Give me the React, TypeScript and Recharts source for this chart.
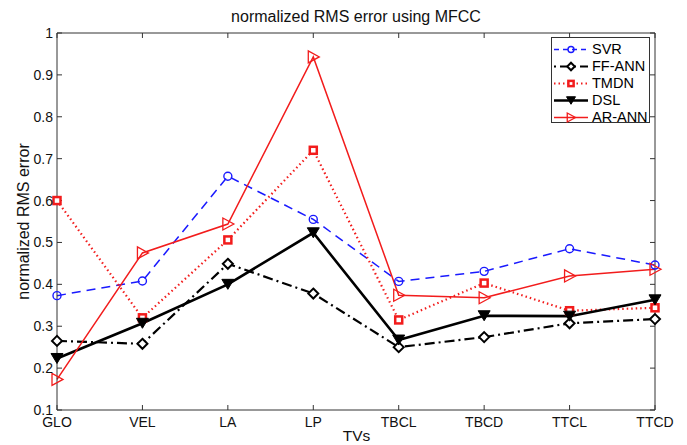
import React from 'react';
import { LineChart, Line, XAxis, YAxis, Legend } from 'recharts';

const tvs = ['GLO', 'VEL', 'LA', 'LP', 'TBCL', 'TBCD', 'TTCL', 'TTCD'];
const svr = [0.373, 0.408, 0.658, 0.555, 0.407, 0.431, 0.485, 0.446];
const ffAnn = [0.265, 0.258, 0.449, 0.378, 0.25, 0.274, 0.307, 0.317];
const tmdn = [0.6, 0.32, 0.506, 0.72, 0.315, 0.403, 0.337, 0.344];
const dsl = [0.223, 0.307, 0.4, 0.523, 0.267, 0.325, 0.324, 0.363];
const arAnn = [0.173, 0.475, 0.544, 0.943, 0.374, 0.368, 0.42, 0.436];
const yTicks = [0.1, 0.2, 0.3, 0.4, 0.5, 0.6, 0.7, 0.8, 0.9, 1];

const data = tvs.map((tv, i) => ({
  tv,
  SVR: svr[i],
  'FF-ANN': ffAnn[i],
  TMDN: tmdn[i],
  DSL: dsl[i],
  'AR-ANN': arAnn[i],
}));

const RED = '#f21c1c';
const BLUE = '#1a1aff';
const BLACK = '#000';
const FONT = 'Liberation Sans, Arial, Helvetica, sans-serif';

type Shape = 'circle' | 'diamond' | 'square' | 'triDown' | 'triRight';

const marker = (shape: Shape, cx: number, cy: number, key?: any, k: number = 1) => {
  switch (shape) {
    case 'circle':
      return <circle key={key} cx={cx} cy={cy} r={4 * k} fill="none" stroke={BLUE} strokeWidth={1.4} />;
    case 'diamond':
      return (
        <polygon key={key} points={`${cx},${cy - 5 * k} ${cx + 5 * k},${cy} ${cx},${cy + 5 * k} ${cx - 5 * k},${cy}`}
          fill="#fff" stroke={BLACK} strokeWidth={2} />
      );
    case 'square':
      return <rect key={key} x={cx - 3.5 * k} y={cy - 3.5 * k} width={7 * k} height={7 * k} fill="#fff" stroke={RED} strokeWidth={2.5} />;
    case 'triDown':
      return (
        <polygon key={key} points={`${cx - 6 * k},${cy - 5 * k} ${cx + 6 * k},${cy - 5 * k} ${cx},${cy + 5 * k}`}
          fill={BLACK} stroke={BLACK} strokeWidth={1} />
      );
    case 'triRight':
    default:
      return (
        <polygon key={key} points={`${cx - 5 * k},${cy - 6 * k} ${cx - 5 * k},${cy + 6 * k} ${cx + 6 * k},${cy}`}
          fill="none" stroke={RED} strokeWidth={1.3} />
      );
  }
};

const dotFor = (shape: Shape) => (props: any) => {
  const { cx, cy, index } = props;
  return marker(shape, cx, cy, `${shape}-${index}`);
};

const series = [
  { key: 'SVR', color: BLUE, width: 1.5, dash: '9 6', legendDash: '5 4', shape: 'circle' as Shape },
  { key: 'FF-ANN', color: BLACK, width: 2.2, dash: '10 4 2 4', legendDash: '2 4 10 4', shape: 'diamond' as Shape },
  { key: 'TMDN', color: RED, width: 2.2, dash: '1.5 3', legendDash: '1.5 3', shape: 'square' as Shape },
  { key: 'DSL', color: BLACK, width: 2.6, dash: undefined, legendDash: undefined, shape: 'triDown' as Shape },
  { key: 'AR-ANN', color: RED, width: 1.5, dash: undefined, legendDash: undefined, shape: 'triRight' as Shape },
];

const LegendBox = () => (
  <div
    style={{
      width: 99,
      height: 86,
      border: '1px solid #333',
      background: '#fff',
      boxSizing: 'border-box',
      paddingTop: 3,
      fontFamily: FONT,
      fontSize: 14.5,
    }}
  >
    {series.map((s) => (
      <div key={s.key} style={{ height: 17, display: 'flex', alignItems: 'center' }}>
        <svg width={38} height={17} style={{ display: 'block' }}>
          <line x1={2} y1={8.5} x2={36} y2={8.5} stroke={s.color} strokeWidth={s.width}
            strokeDasharray={s.legendDash} />
          {marker(s.shape, 19, 8.5, undefined, 0.75)}
        </svg>
        <span style={{ marginLeft: 2, color: '#000', lineHeight: '17px' }}>{s.key}</span>
      </div>
    ))}
  </div>
);

export default function App() {
  return (
    <div style={{ position: 'absolute', left: 0, top: 0, width: 687, height: 445, background: '#fff' }}>
      <LineChart
        width={687}
        height={445}
        data={data}
        margin={{ top: 32, right: 31, left: 0, bottom: 9 }}
      >
        <XAxis
          dataKey="tv"
          xAxisId="bottom"
          orientation="bottom"
          height={26}
          tickSize={-5}
          tickMargin={12}
          interval={0}
          stroke="#333"
          tick={{ fill: '#111', fontSize: 14, fontFamily: FONT }}
        />
        <XAxis
          dataKey="tv"
          xAxisId="top"
          orientation="top"
          height={1}
          tickSize={-5}
          interval={0}
          stroke="#333"
          tickFormatter={() => ''}
        />
        <YAxis
          yAxisId="left"
          width={57}
          domain={[0.1, 1]}
          ticks={yTicks}
          allowDataOverflow
          tickSize={-5}
          tickMargin={9}
          interval={0}
          stroke="#333"
          tickFormatter={(v: number) => (v === 1 ? '1' : v.toFixed(1))}
          tick={{ fill: '#111', fontSize: 14, fontFamily: FONT }}
        />
        <YAxis
          yAxisId="right"
          orientation="right"
          width={1}
          domain={[0.1, 1]}
          ticks={yTicks}
          allowDataOverflow
          tickSize={-5}
          interval={0}
          stroke="#333"
          tickFormatter={() => ''}
        />
        {series.map((s) => (
          <Line
            key={s.key}
            xAxisId="bottom"
            yAxisId="left"
            type="linear"
            dataKey={s.key}
            stroke={s.color}
            strokeWidth={s.width}
            strokeDasharray={s.dash}
            dot={dotFor(s.shape)}
            activeDot={false}
            isAnimationActive={false}
          />
        ))}
        <Legend
          layout="horizontal"
          verticalAlign="middle"
          align="center"
          content={() => <LegendBox />}
          wrapperStyle={{ position: 'absolute', left: 551, top: 37, width: 99, height: 86 }}
        />
      </LineChart>
      <svg
        width={687}
        height={445}
        style={{ position: 'absolute', left: 0, top: 0, pointerEvents: 'none' }}
      >
        <text x={356} y={21.5} textAnchor="middle" fontSize={16} fontFamily={FONT} fill="#111">
          normalized RMS error using MFCC
        </text>
        <text x={356.5} y={441} textAnchor="middle" fontSize={15.5} fontFamily={FONT} fill="#111">
          TVs
        </text>
        <text
          x={29}
          y={221.5}
          textAnchor="middle"
          fontSize={16}
          fontFamily={FONT}
          fill="#111"
          transform="rotate(-90 29 221.5)"
        >
          normalized RMS error
        </text>
      </svg>
    </div>
  );
}
